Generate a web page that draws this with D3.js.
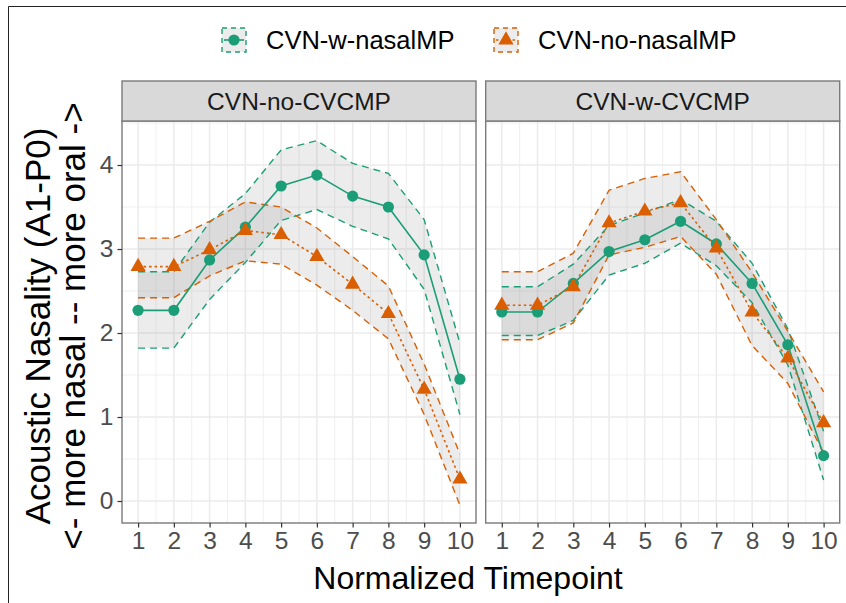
<!DOCTYPE html>
<html><head><meta charset="utf-8">
<script src="https://cdn.jsdelivr.net/npm/d3@7"></script>
<style>body{margin:0;background:#fff}svg{display:block;font-family:"Liberation Sans",Arial,sans-serif}</style>
</head><body><svg id="c" width="846" height="603"></svg>
<script>
const timepoints = [1,2,3,4,5,6,7,8,9,10];
const xTickLabels = ["1","2","3","4","5","6","7","8","9","10"];
const yTickValues = [0,1,2,3,4];
const panels = ["CVN-no-CVCMP","CVN-w-CVCMP"];
const seriesNames = ["CVN-w-nasalMP","CVN-no-nasalMP"];
// Panel 1: CVN-no-CVCMP
const p1_wMean = [2.27,2.27,2.87,3.26,3.75,3.88,3.63,3.50,2.93,1.45];
const p1_wLo   = [1.82,1.82,2.40,2.84,3.34,3.47,3.27,3.12,2.52,1.03];
const p1_wHi   = [2.73,2.73,3.32,3.66,4.18,4.29,4.02,3.90,3.35,1.88];
const p1_nMean = [2.79,2.79,2.99,3.22,3.17,2.91,2.58,2.23,1.33,0.26];
const p1_nLo   = [2.42,2.42,2.68,2.86,2.82,2.57,2.27,1.93,1.03,-0.05];
const p1_nHi   = [3.13,3.13,3.33,3.56,3.50,3.25,2.91,2.56,1.63,0.56];
// Panel 2: CVN-w-CVCMP
const p2_wMean = [2.25,2.25,2.59,2.97,3.11,3.33,3.06,2.59,1.86,0.54];
const p2_wLo   = [1.97,1.97,2.15,2.69,2.83,3.07,2.80,2.36,1.62,0.25];
const p2_wHi   = [2.55,2.55,2.82,3.28,3.43,3.59,3.33,2.83,2.05,0.83];
const p2_nMean = [2.33,2.33,2.55,3.31,3.45,3.55,3.01,2.25,1.70,0.93];
const p2_nLo   = [1.92,1.92,2.12,2.93,3.02,3.15,2.70,1.85,1.40,0.57];
const p2_nHi   = [2.73,2.73,2.95,3.70,3.84,3.92,3.35,2.72,2.02,1.30];

const GREEN = "#1b9e77", ORANGE = "#d95f02";
const svg = d3.select("#c");

// outer frame (as in source image)
svg.append("line").attr("x1",8.5).attr("y1",6.5).attr("x2",8.5).attr("y2",603).attr("stroke","#222").attr("stroke-width",1);
svg.append("line").attr("x1",8.5).attr("y1",6.5).attr("x2",846).attr("y2",6.5).attr("stroke","#222").attr("stroke-width",1);

const panelTop = 121, panelBottom = 523, stripTop = 81;
const panelX = [[122,476],[485.7,839.7]];
const y = d3.scaleLinear().domain([-0.262,4.524]).range([panelBottom,panelTop]);

const data = [
  {w:{mean:p1_wMean,lo:p1_wLo,hi:p1_wHi}, n:{mean:p1_nMean,lo:p1_nLo,hi:p1_nHi}},
  {w:{mean:p2_wMean,lo:p2_wLo,hi:p2_wHi}, n:{mean:p2_nMean,lo:p2_nLo,hi:p2_nHi}}
];

const triPath = d3.symbol().type(d3.symbolTriangle).size(100)();

panels.forEach((name,pi)=>{
  const [x0,x1] = panelX[pi];
  const x = d3.scaleLinear().domain([0.55,10.45]).range([x0,x1]);
  const g = svg.append("g");
  g.append("rect").attr("x",x0).attr("y",panelTop).attr("width",x1-x0).attr("height",panelBottom-panelTop).attr("fill","#fff");
  // minor grid
  const xMinor = d3.range(1.5,10,1);
  const yMinor = [0.5,1.5,2.5,3.5,4.5];
  g.selectAll(".xm").data(xMinor).join("line").attr("x1",d=>x(d)).attr("x2",d=>x(d)).attr("y1",panelTop).attr("y2",panelBottom).attr("stroke","#ebebeb").attr("stroke-width",0.8);
  g.selectAll(".ym").data(yMinor).join("line").attr("y1",d=>y(d)).attr("y2",d=>y(d)).attr("x1",x0).attr("x2",x1).attr("stroke","#ebebeb").attr("stroke-width",0.8);
  g.selectAll(".xM").data(timepoints).join("line").attr("x1",d=>x(d)).attr("x2",d=>x(d)).attr("y1",panelTop).attr("y2",panelBottom).attr("stroke","#ebebeb").attr("stroke-width",1.5);
  g.selectAll(".yM").data(yTickValues).join("line").attr("y1",d=>y(d)).attr("y2",d=>y(d)).attr("x1",x0).attr("x2",x1).attr("stroke","#ebebeb").attr("stroke-width",1.5);

  const d = data[pi];
  const area = vals => d3.area().x((v,i)=>x(timepoints[i])).y0((v,i)=>y(vals.lo[i])).y1((v,i)=>y(vals.hi[i]));
  const line = arr => d3.line().x((v,i)=>x(timepoints[i])).y(v=>y(v))(arr);
  [["w",GREEN],["n",ORANGE]].forEach(([k,col])=>{
    const s = d[k];
    g.append("path").attr("d",area(s)(s.mean)).attr("fill","#7f7f7f").attr("fill-opacity",0.15);
  });
  [["w",GREEN],["n",ORANGE]].forEach(([k,col])=>{
    const s = d[k];
    g.append("path").attr("d",line(s.lo)).attr("fill","none").attr("stroke",col).attr("stroke-width",1.4).attr("stroke-dasharray","7,5");
    g.append("path").attr("d",line(s.hi)).attr("fill","none").attr("stroke",col).attr("stroke-width",1.4).attr("stroke-dasharray","7,5");
  });
  // mean lines
  g.append("path").attr("d",line(d.w.mean)).attr("fill","none").attr("stroke",GREEN).attr("stroke-width",1.6);
  g.append("path").attr("d",line(d.n.mean)).attr("fill","none").attr("stroke",ORANGE).attr("stroke-width",1.6).attr("stroke-dasharray","2.5,3");
  // points
  g.selectAll(".pw").data(d.w.mean).join("circle").attr("cx",(v,i)=>x(timepoints[i])).attr("cy",v=>y(v)).attr("r",5.6).attr("fill",GREEN);
  g.selectAll(".pn").data(d.n.mean).join("path").attr("d",triPath).attr("transform",(v,i)=>`translate(${x(timepoints[i])},${y(v)})`).attr("fill",ORANGE);

  // border
  g.append("rect").attr("x",x0).attr("y",panelTop).attr("width",x1-x0).attr("height",panelBottom-panelTop).attr("fill","none").attr("stroke","#7a7a7a").attr("stroke-width",1.4);
  // strip
  g.append("rect").attr("x",x0).attr("y",stripTop).attr("width",x1-x0).attr("height",panelTop-stripTop).attr("fill","#d9d9d9").attr("stroke","#7a7a7a").attr("stroke-width",1.4);
  g.append("text").attr("x",(x0+x1)/2).attr("y",(stripTop+panelTop)/2).attr("dy","0.36em").attr("text-anchor","middle").attr("font-size",24.5).attr("fill","#1a1a1a").text(name);

  // x axis
  const xa = d3.axisBottom(x).tickValues(timepoints).tickFormat((v,i)=>xTickLabels[i]).tickSize(4.5).tickPadding(4);
  const ax = svg.append("g").attr("transform",`translate(0,${panelBottom})`).call(xa);
  ax.select(".domain").remove();
  ax.selectAll(".tick line").attr("stroke","#333").attr("stroke-width",1.2);
  ax.selectAll(".tick text").attr("font-size",24.5).attr("fill","#4d4d4d").attr("font-family","Liberation Sans, Arial, sans-serif");

  if (pi===0) {
    const ya = d3.axisLeft(y).tickValues(yTickValues).tickFormat(d3.format("d")).tickSize(4.5).tickPadding(4);
    const ay = svg.append("g").attr("transform",`translate(${x0},0)`).call(ya);
    ay.select(".domain").remove();
    ay.selectAll(".tick line").attr("stroke","#333").attr("stroke-width",1.2);
    ay.selectAll(".tick text").attr("font-size",24.5).attr("fill","#4d4d4d").attr("font-family","Liberation Sans, Arial, sans-serif");
  }
});

// axis titles
svg.append("text").attr("x",468).attr("y",589).attr("text-anchor","middle").attr("font-size",32).attr("fill","#000").text("Normalized Timepoint");
const yt = svg.append("text").attr("transform","translate(0,326) rotate(-90)").attr("text-anchor","middle").attr("font-size",35).attr("fill","#000");
yt.append("tspan").attr("x",0).attr("y",50).text("Acoustic Nasality (A1-P0)");
yt.append("tspan").attr("x",0).attr("y",85).text("<- more nasal -- more oral ->");

// legend
const legend = [
  {name:seriesNames[0], col:GREEN, shape:"circle", dash:null, kx:222, tx:266},
  {name:seriesNames[1], col:ORANGE, shape:"tri", dash:"2.5,3", kx:494, tx:538}
];
const ly = 40, ks = 24;
legend.forEach(L=>{
  const g = svg.append("g");
  g.append("rect").attr("x",L.kx).attr("y",ly-ks/2).attr("width",ks).attr("height",ks).attr("fill","#7f7f7f").attr("fill-opacity",0.15).attr("stroke",L.col).attr("stroke-width",1.4).attr("stroke-dasharray","5,4");
  g.append("line").attr("x1",L.kx+2).attr("x2",L.kx+ks-2).attr("y1",ly).attr("y2",ly).attr("stroke",L.col).attr("stroke-width",1.6).attr("stroke-dasharray",L.dash);
  if (L.shape==="circle") g.append("circle").attr("cx",L.kx+ks/2).attr("cy",ly).attr("r",5.6).attr("fill",L.col);
  else g.append("path").attr("d",triPath).attr("transform",`translate(${L.kx+ks/2},${ly})`).attr("fill",L.col);
  g.append("text").attr("x",L.tx).attr("y",ly).attr("dy","0.36em").attr("font-size",25.5).attr("fill","#000").text(L.name);
});
</script></body></html>
